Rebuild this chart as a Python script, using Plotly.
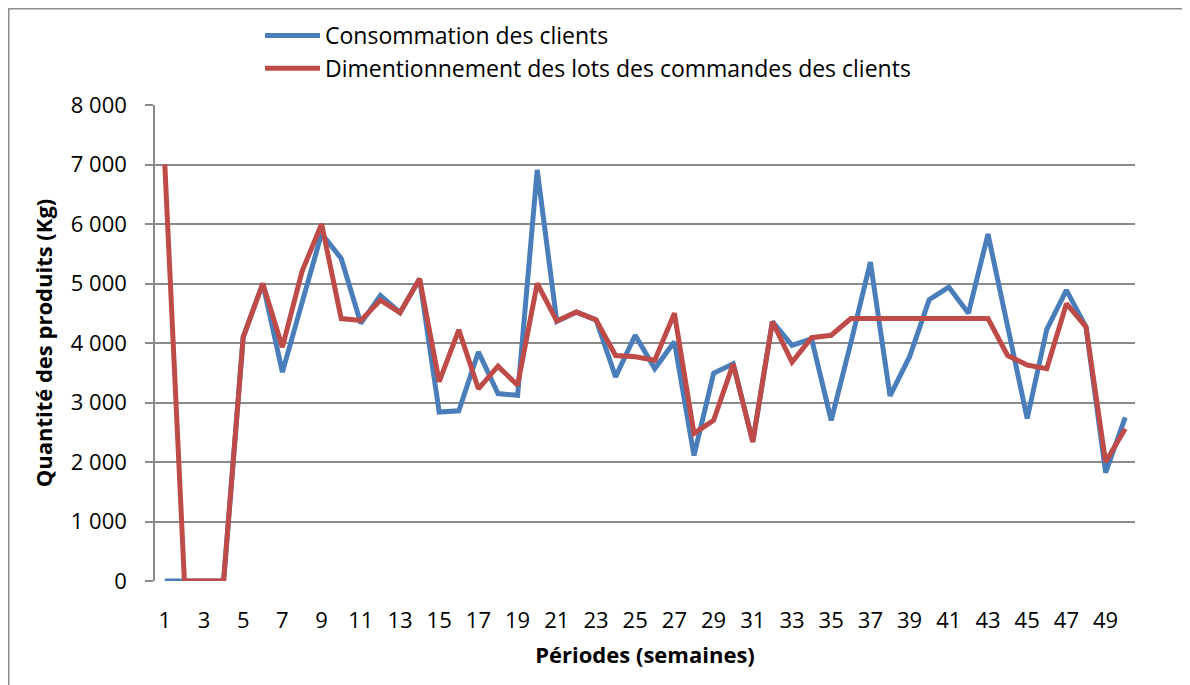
import plotly.graph_objects as go

periodes = list(range(1, 51))

consommation = [
    0, 0, 0, 0, 4100, 5000, 3510, 4690, 5840, 5420,
    4330, 4800, 4510, 5080, 2840, 2860, 3850, 3150, 3120, 6910,
    4360, 4520, 4390, 3430, 4130, 3570, 4020, 2110, 3490, 3650,
    2340, 4360, 3960, 4070, 2700, 4000, 5360, 3110, 3770, 4730,
    4940, 4500, 5830, 4280, 2730, 4230, 4890, 4270, 1820, 2750,
]

dimensionnement = [
    7000, 0, 0, 0, 4100, 5000, 3930, 5200, 6000, 4410,
    4380, 4720, 4510, 5080, 3350, 4220, 3230, 3610, 3290, 5000,
    4370, 4520, 4390, 3790, 3770, 3710, 4500, 2480, 2700, 3650,
    2340, 4360, 3680, 4090, 4130, 4410, 4410, 4410, 4410, 4410,
    4410, 4410, 4410, 3790, 3630, 3570, 4660, 4270, 2000, 2560,
]

x_ticks = list(range(1, 50, 2))
y_ticks = list(range(0, 8001, 1000))

FONT = "Open Sans"
GRID = "#8a8a8a"

# the page body adds 8px, so positions below are page position - 8
W, H = 1190, 685
left, top = 147, 97
pw, ph = 980, 476
right = W - left - pw
bottom = H - top - ph

fig = go.Figure()

fig.add_trace(go.Scatter(
    x=periodes,
    y=consommation,
    mode="lines",
    name="Consommation des clients",
    line=dict(color="#4a7ebb", width=5)
))

fig.add_trace(go.Scatter(
    x=periodes,
    y=dimensionnement,
    mode="lines",
    name="Dimentionnement des lots des commandes des clients",
    line=dict(color="#be4b48", width=5)
))

# outer frame of the chart
fig.add_shape(
    type="rect", xref="paper", yref="paper",
    x0=(0.75 - left) / pw, x1=(1181 - left) / pw,
    y0=-(bottom + 20) / ph, y1=1 + (top - 0.75) / ph,
    line=dict(color="#8c8c8c", width=1.5), layer="below"
)

fig.update_layout(
    width=W,
    height=H,
    margin=dict(l=left, r=right, t=top, b=bottom, autoexpand=False),
    paper_bgcolor="white",
    plot_bgcolor="white",
    separators=", ",
    font=dict(family=FONT, size=22, color="black"),
    showlegend=True,
    legend=dict(
        x=(252 - left) / pw, y=1 + (top - 6) / ph,
        xanchor="left", yanchor="top",
        font=dict(size=23),
        tracegroupgap=0,
        itemwidth=55,
        bgcolor="rgba(0,0,0,0)"
    ),
    xaxis=dict(
        range=[0.5, 50.5],
        tickmode="array",
        tickvals=x_ticks,
        showgrid=False,
        showline=False,
        ticks="",
        zeroline=False,
        ticklabelstandoff=24,
        title=dict(text="<b>Périodes (semaines)</b>", font=dict(size=22), standoff=14),
    ),
    yaxis=dict(
        range=[0, 8000],
        tickmode="array",
        tickvals=y_ticks,
        tickformat=",d",
        showgrid=True,
        gridcolor=GRID,
        gridwidth=1.5,
        showline=True,
        linecolor=GRID,
        linewidth=1.5,
        ticks="outside",
        ticklen=8,
        tickcolor=GRID,
        tickwidth=1.5,
        zeroline=False,
        ticklabelstandoff=14,
        title=dict(text="<b>Quantité des produits (Kg)</b>", font=dict(size=22), standoff=12),
    ),
)

fig.write_html("out.html")
